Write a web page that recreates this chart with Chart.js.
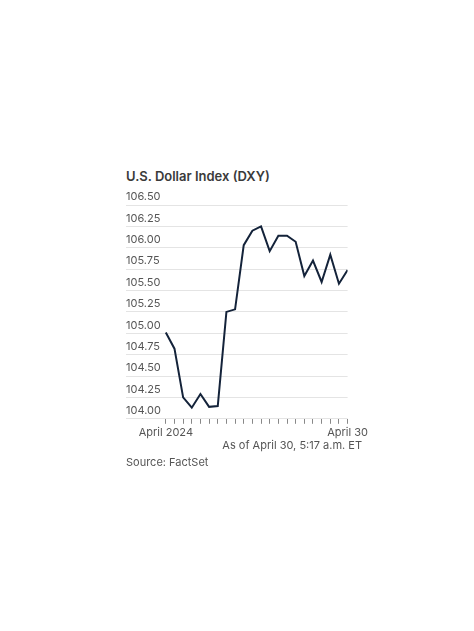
<!DOCTYPE html>
<html>
<head>
<meta charset="utf-8">
<script src="https://cdn.jsdelivr.net/npm/chart.js@4"></script>
<style>
  body { margin: 0; background: #fff; font-family: Inter, "Open Sans", sans-serif; width: 474px; height: 631px; position: relative; }
  #title { position: absolute; left: 126px; top: 168px; font-size: 13px; font-weight: 600; color: #3a3a3a; }
  #wrap { position: absolute; left: 126px; top: 191px; width: 244px; height: 250px; }
  #asof { position: absolute; right: 112px; top: 438px; font-size: 11px; color: #555; }
  #src { position: absolute; left: 126px; top: 455px; font-size: 11px; color: #555; }
</style>
</head>
<body>
<div id="title">U.S. Dollar Index (DXY)</div>
<div id="wrap"><canvas id="myChart"></canvas></div>
<div id="asof">As of April 30, 5:17 a.m. ET</div>
<div id="src">Source: FactSet</div>
<script>
// Data
const dxy = [105.01, 104.82, 104.25, 104.13, 104.29, 104.14, 104.15, 105.25, 105.28, 106.03, 106.20,
  106.25, 105.96, 106.14, 106.14, 106.07, 105.67, 105.85, 105.60, 105.92, 105.58, 105.74];
const firstLabel = "April 2024";
const lastLabel = "April 30";
const yTicks = [104.00, 104.25, 104.50, 104.75, 105.00, 105.25, 105.50, 105.75, 106.00, 106.25, 106.50];

const points = dxy.map(function (v, i) { return { x: i, y: v }; });
const ctx = document.getElementById('myChart');

new Chart(ctx, {
  type: 'line',
  data: {
    datasets: [{
      data: points,
      borderColor: '#14233a',
      borderWidth: 2,
      pointRadius: 0,
      tension: 0
    }]
  },
  options: {
    responsive: true,
    maintainAspectRatio: false,
    animation: false,
    layout: { padding: { top: 14, right: 2 } },
    plugins: { legend: { display: false }, tooltip: { enabled: false } },
    scales: {
      x: {
        type: 'linear',
        min: -4.6,
        max: 21,
        afterBuildTicks: function (axis) {
          axis.ticks = dxy.map(function (v, i) { return { value: i }; });
        },
        grid: { drawOnChartArea: false, tickLength: 5, color: '#888' },
        border: { display: false },
        ticks: {
          maxRotation: 0,
          autoSkip: false,
          color: '#555',
          font: { size: 11, family: 'Inter' },
          padding: 2,
          callback: function (v) {
            if (v === 0) return firstLabel;
            if (v === dxy.length - 1) return lastLabel;
            return '';
          }
        }
      },
      y: {
        min: 104,
        max: 106.5,
        afterBuildTicks: function (axis) {
          axis.ticks = yTicks.map(function (v) { return { value: v }; });
        },
        grid: { color: '#e4e4e4', drawTicks: false },
        border: { display: false },
        ticks: {
          mirror: true,
          padding: 0,
          labelOffset: -8,
          color: '#555',
          font: { size: 11, family: 'Inter' },
          callback: function (v) { return v.toFixed(2); }
        }
      }
    }
  }
});
</script>
</body>
</html>
